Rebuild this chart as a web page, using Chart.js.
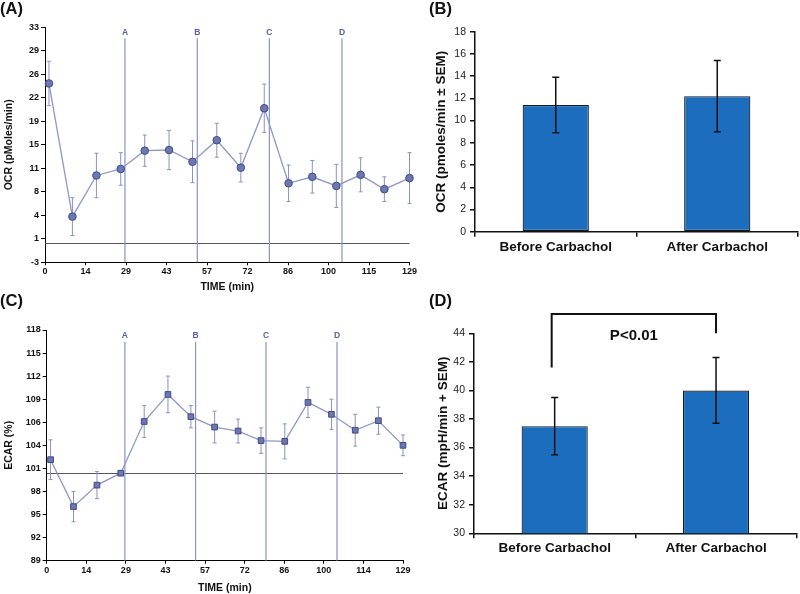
<!DOCTYPE html>
<html>
<head>
<meta charset="utf-8">
<script src="https://cdn.jsdelivr.net/npm/chart.js@4/dist/chart.umd.min.js"></script>
<style>
body { margin: 0; background: #fff; }
#wrap { position: relative; width: 800px; height: 594px; overflow: hidden; font-family: "Liberation Sans", Arial, sans-serif; }
canvas { position: absolute; }
.lab { position: absolute; font-size: 16.5px; line-height: 17px; font-weight: bold; color: #111; }
</style>
</head>
<body>
<div id="wrap">
  <canvas id="chartA" width="420" height="295" style="left:0;top:0;width:420px;height:295px"></canvas>
  <canvas id="chartC" width="420" height="304" style="left:0;top:290px;width:420px;height:304px"></canvas>
  <canvas id="chartB" width="400" height="290" style="left:400px;top:0;width:400px;height:290px"></canvas>
  <canvas id="chartD" width="400" height="304" style="left:400px;top:290px;width:400px;height:304px"></canvas>
  <div class="lab" style="left:0;top:0">(A)</div>
  <div class="lab" style="left:429px;top:0">(B)</div>
  <div class="lab" style="left:0;top:292px">(C)</div>
  <div class="lab" style="left:429px;top:292px">(D)</div>
</div>
<script>
// time course data (panels A and C)
const times = [1.4, 9.7, 18.2, 26.8, 35.3, 43.9, 52.2, 60.8, 69.3, 77.6, 86.2, 94.6, 103.1, 111.7, 120.1, 129];
const ocr = [24.4, 4.0, 10.3, 11.3, 14.1, 14.2, 12.4, 15.7, 11.5, 20.6, 9.1, 10.1, 8.7, 10.4, 8.2, 9.9];
const ocrErr = [3.4, 2.9, 3.4, 2.5, 2.4, 3.0, 3.2, 2.6, 2.2, 3.7, 2.8, 2.5, 3.3, 2.6, 1.9, 3.9];
const ecar = [101.7, 95.8, 98.5, 100.0, 106.5, 109.9, 107.1, 105.8, 105.3, 104.1, 104.0, 108.9, 107.4, 105.4, 106.6, 103.5];
const ecarErr = [2.5, 1.9, 1.7, 0.3, 2.0, 2.3, 1.4, 2.0, 1.5, 1.6, 2.2, 1.9, 1.9, 2.0, 1.7, 1.3];

// injection ports
const injTimes = [28.3, 53.9, 79.4, 105.1];
const injLabels = ['A', 'B', 'C', 'D'];

// tick labels
const ocrTicks = [-3, 1, 4, 8, 11, 15, 19, 22, 26, 29, 33];
const timeTicksA = [0, 14, 29, 43, 57, 72, 86, 100, 115, 129];
const ecarTicks = [89, 92, 95, 98, 101, 104, 106, 109, 112, 115, 118];
const timeTicksC = [0, 14, 29, 43, 57, 72, 86, 100, 114, 129];

// bar data (panels B and D)
const groups = ['Before Carbachol', 'After Carbachol'];
const ocrBar = [11.4, 12.2];
const ocrBarErr = [2.5, 3.2];
const ecarBar = [37.5, 40.0];
const ecarBarErr = [2.0, 2.3];

const FONT = '"Liberation Sans", Arial, sans-serif';
Chart.defaults.font.family = FONT;
Chart.defaults.color = '#111';

function drawErrors(chart, vals, errs, color, cap, width) {
    let ctx = chart.ctx;
    let y = chart.scales.y;
    let meta = chart.getDatasetMeta(0);
    ctx.save();
    ctx.strokeStyle = color;
    ctx.lineWidth = width;
    meta.data.forEach((el, i) => {
        let top = y.getPixelForValue(vals[i] + errs[i]);
        let bot = y.getPixelForValue(vals[i] - errs[i]);
        ctx.beginPath();
        ctx.moveTo(el.x, top); ctx.lineTo(el.x, bot);
        ctx.moveTo(el.x - cap, top); ctx.lineTo(el.x + cap, top);
        ctx.moveTo(el.x - cap, bot); ctx.lineTo(el.x + cap, bot);
        ctx.stroke();
    });
    ctx.restore();
}

function timeChart(id, o) {
    let points = times.map((t, i) => ({x: t, y: o.values[i]}));
    let overlay = {
        id: 'overlay',
        beforeDatasetsDraw(chart) {
            let ctx = chart.ctx;
            let xs = chart.scales.x, ys = chart.scales.y;
            let area = chart.chartArea;
            ctx.save();
            // baseline
            let yb = Math.round(ys.getPixelForValue(o.base)) + 0.5;
            ctx.strokeStyle = '#555';
            ctx.lineWidth = 1;
            ctx.beginPath(); ctx.moveTo(area.left, yb); ctx.lineTo(area.right, yb); ctx.stroke();
            // injection lines
            ctx.strokeStyle = '#8a92c8';
            ctx.lineWidth = 1.2;
            ctx.fillStyle = '#5660a8';
            ctx.font = 'bold 8.5px ' + FONT;
            ctx.textAlign = 'center';
            ctx.textBaseline = 'middle';
            injTimes.forEach((t, i) => {
                let x = xs.getPixelForValue(t);
                ctx.beginPath(); ctx.moveTo(x, area.top + o.lineGap); ctx.lineTo(x, area.bottom); ctx.stroke();
                ctx.fillText(injLabels[i], x, area.top + o.lineGap - 6);
            });
            ctx.restore();
            drawErrors(chart, o.values, o.errs, '#8a92c4', 2, 1);
        }
    };
    return new Chart(document.getElementById(id), {
        type: 'line',
        data: {
            datasets: [{
                data: points,
                borderColor: '#8f97c9',
                borderWidth: 1.3,
                pointStyle: o.marker,
                pointRadius: o.radius,
                pointBackgroundColor: '#6d78b0',
                pointBorderColor: '#3f4a88',
                pointBorderWidth: 1,
                clip: false
            }]
        },
        options: {
            responsive: false,
            animation: false,
            events: [],
            layout: {padding: o.pad},
            plugins: {legend: {display: false}, tooltip: {enabled: false}},
            scales: {
                x: {
                    type: 'linear', min: 0, max: 129,
                    ticks: {count: 10, callback: (v, i) => o.xTicks[i], font: {size: 9, weight: 'bold'}, color: '#111', padding: 1, maxRotation: 0, autoSkip: false},
                    grid: {drawOnChartArea: false, tickLength: 3, color: '#000'},
                    border: {color: '#000'},
                    title: {display: true, text: 'TIME (min)', font: {size: 10.5, weight: 'bold'}, color: '#111', padding: {top: 0, bottom: o.xTitlePad}},
                    afterFit(s) { s.height = o.xh; s.paddingLeft = 0; s.paddingRight = 0; }
                },
                y: {
                    min: o.min, max: o.max,
                    ticks: {count: 11, callback: (v, i) => o.yTicks[i], font: {size: 9, weight: 'bold'}, color: '#111', padding: 2, autoSkip: false},
                    grid: {drawOnChartArea: false, tickLength: 4, color: '#000'},
                    border: {color: '#000'},
                    title: {display: true, text: o.yTitle, font: {size: 10.5, weight: 'bold'}, color: '#111', padding: {top: 3, bottom: 0}},
                    afterFit(s) { s.width = o.yw; s.paddingTop = 0; s.paddingBottom = 0; }
                }
            }
        },
        plugins: [overlay]
    });
}

function barChart(id, o) {
    let extras = {
        id: 'extras',
        afterDatasetsDraw(chart) {
            drawErrors(chart, o.values, o.errs, '#111', 3.5, 1.5);
            if (o.bracket) {
                let ctx = chart.ctx;
                let xs = chart.scales.x, ys = chart.scales.y;
                let x0 = xs.getPixelForValue(0) - 3, x1 = xs.getPixelForValue(1);
                let yt = ys.getPixelForValue(o.bracket.top);
                ctx.save();
                ctx.strokeStyle = '#111';
                ctx.lineWidth = 2;
                ctx.beginPath();
                ctx.moveTo(x0, ys.getPixelForValue(o.bracket.left));
                ctx.lineTo(x0, yt); ctx.lineTo(x1, yt);
                ctx.lineTo(x1, ys.getPixelForValue(o.bracket.right));
                ctx.stroke();
                ctx.fillStyle = '#111';
                ctx.font = 'bold 15px ' + FONT;
                ctx.textAlign = 'center';
                ctx.textBaseline = 'middle';
                ctx.fillText(o.bracket.text, (x0 + x1) / 2, ys.getPixelForValue(o.bracket.textY));
                ctx.restore();
            }
        }
    };
    return new Chart(document.getElementById(id), {
        type: 'bar',
        data: {
            labels: groups,
            datasets: [{
                data: o.values,
                backgroundColor: '#1d6dbf',
                borderColor: '#1a1a1a',
                borderWidth: 1.2,
                borderSkipped: false,
                categoryPercentage: 1,
                barPercentage: 0.41
            }]
        },
        options: {
            responsive: false,
            animation: false,
            events: [],
            layout: {padding: o.pad},
            plugins: {legend: {display: false}, tooltip: {enabled: false}},
            scales: {
                x: {
                    offset: true,
                    ticks: {font: {size: 13.5, weight: 'bold'}, color: '#111', padding: 2, maxRotation: 0},
                    grid: {offset: true, drawOnChartArea: false, tickLength: 5, color: '#111', lineWidth: 1.5},
                    border: {color: '#111', width: 1.5},
                    afterFit(s) { s.height = o.xh; s.paddingLeft = 0; s.paddingRight = 0; }
                },
                y: {
                    min: o.min, max: o.max,
                    ticks: {stepSize: 2, font: {size: 10.5}, color: '#222', padding: 4},
                    grid: {drawOnChartArea: false, tickLength: 5, color: '#111', lineWidth: 1.5},
                    border: {color: '#111', width: 1.5},
                    title: {display: true, text: o.yTitle, font: {size: 13.5, weight: 'bold'}, color: '#111', padding: {top: o.yTitlePad, bottom: 0}},
                    afterFit(s) { s.width = o.yw; s.paddingTop = 0; s.paddingBottom = 0; }
                }
            }
        },
        plugins: [extras]
    });
}

timeChart('chartA', {
    values: ocr, errs: ocrErr, marker: 'circle', radius: 3.8, base: 0,
    min: -3, max: 33, yTicks: ocrTicks, xTicks: timeTicksA,
    yTitle: 'OCR (pMoles/min)', pad: {top: 27.3, right: 10.5, left: 0, bottom: 0},
    yw: 45, xh: 32.7, xTitlePad: 2, lineGap: 11
});

timeChart('chartC', {
    values: ecar, errs: ecarErr, marker: 'rect', radius: 4, base: 100,
    min: 89, max: 118, yTicks: ecarTicks, xTicks: timeTicksC,
    yTitle: 'ECAR (%)', pad: {top: 40, right: 17, left: 0, bottom: 0},
    yw: 46.7, xh: 33.3, xTitlePad: 0, lineGap: 12
});

barChart('chartB', {
    values: ocrBar, errs: ocrBarErr, min: 0, max: 18,
    yTitle: 'OCR (pmoles/min ± SEM)', yTitlePad: 33,
    pad: {top: 31.7, right: 2, left: 0, bottom: 0}, yw: 75, xh: 58.3
});

barChart('chartD', {
    values: ecarBar, errs: ecarBarErr, min: 30, max: 44,
    yTitle: 'ECAR (mpH/min + SEM)', yTitlePad: 35,
    pad: {top: 43.3, right: 3.3, left: 0, bottom: 0}, yw: 74, xh: 60.7,
    bracket: {top: 45.35, left: 41.6, right: 44.0, text: 'P<0.01', textY: 43.8}
});
</script>
</body>
</html>
